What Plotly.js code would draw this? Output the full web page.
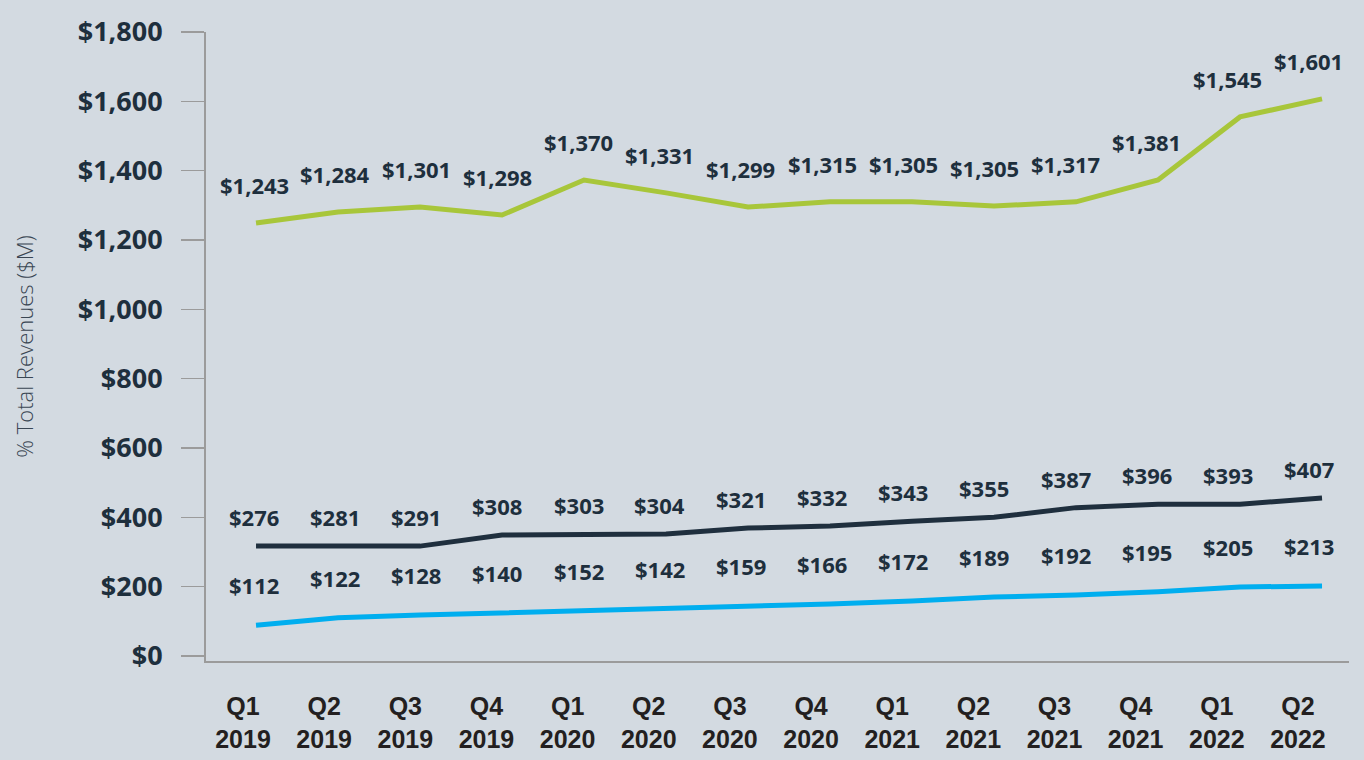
<!DOCTYPE html>
<html>
<head>
<meta charset="utf-8">
<script src="https://cdn.plot.ly/plotly-3.0.1.min.js"></script>
<style>
  html, body { margin: 0; padding: 0; background: #d3dae1; }
  #chart { width: 1364px; height: 760px; }
</style>
</head>
<body>
<div id="chart"></div>
<script>
// ---- Data ----
const quarters = ['Q1','Q2','Q3','Q4','Q1','Q2','Q3','Q4','Q1','Q2','Q3','Q4','Q1','Q2'];
const years    = ['2019','2019','2019','2019','2020','2020','2020','2020','2021','2021','2021','2021','2022','2022'];

const greenValues = [1249, 1281, 1295, 1272, 1373, 1336, 1295, 1310, 1310, 1298, 1310, 1373, 1555, 1607];
const greenLabels = ['$1,243','$1,284','$1,301','$1,298','$1,370','$1,331','$1,299','$1,315','$1,305','$1,305','$1,317','$1,381','$1,545','$1,601'];

const darkValues = [317, 317, 317, 349, 352, 352, 369, 375, 389, 400, 428, 438, 438, 456];
const darkLabels = ['$276','$281','$291','$308','$303','$304','$321','$332','$343','$355','$387','$396','$393','$407'];

const blueValues = [89, 110, 118, 124, 130, 136, 144, 150, 159, 170, 176, 185, 199, 202];
const blueLabels = ['$112','$122','$128','$140','$152','$142','$159','$166','$172','$189','$192','$195','$205','$213'];

const yTickValues = [0, 200, 400, 600, 800, 1000, 1200, 1400, 1600, 1800];
const yTickText = ['$0','$200','$400','$600','$800','$1,000','$1,200','$1,400','$1,600','$1,800'];

// ---- Derived ----
const categories = quarters.map((q, i) => q + ' ' + years[i]);
const tickText = quarters.map((q, i) => q + '<br>' + years[i]);

const GREEN = '#a8c63a';
const DARK = '#1f2f3e';
const BLUE = '#00aeef';
const TEXT = '#1e2f3d';
const AXIS = '#9b9b9b';
const BG = '#d3dae1';

function lineTrace(values, color) {
  return {
    type: 'scatter',
    mode: 'lines',
    x: categories,
    y: values,
    xaxis: 'x2',
    yaxis: 'y',
    line: { color: color, width: 5, shape: 'linear' },
    hoverinfo: 'skip',
    showlegend: false
  };
}

const traces = [
  lineTrace(greenValues, GREEN),
  lineTrace(darkValues, DARK),
  lineTrace(blueValues, BLUE)
];

const labelFont = { family: 'Open Sans, sans-serif', size: 22, color: TEXT, weight: 'bold' };
function labelAnnotations(values, labels, yshift) {
  return values.map((v, i) => ({
    xref: 'x', yref: 'y',
    x: categories[i], y: v,
    xshift: 11, yshift: yshift,
    text: labels[i],
    showarrow: false,
    font: labelFont
  }));
}

const annotations = []
  .concat(labelAnnotations(greenValues, greenLabels, 38))
  .concat(labelAnnotations(darkValues, darkLabels, 29))
  .concat(labelAnnotations(blueValues, blueLabels, 40));

const layout = {
  width: 1364,
  height: 760,
  margin: { l: 206, r: 15, t: 32, b: 99 },
  paper_bgcolor: BG,
  plot_bgcolor: BG,
  showlegend: false,
  xaxis: {
    type: 'category',
    categoryorder: 'array',
    categoryarray: categories,
    range: [-0.456, 13.629],
    tickmode: 'array',
    tickvals: categories,
    ticktext: tickText,
    showgrid: false,
    zeroline: false,
    showline: true,
    linecolor: AXIS,
    linewidth: 2,
    ticks: '',
    ticklabelstandoff: 22,
    tickfont: { family: 'Liberation Sans, Arial, sans-serif', size: 25, color: '#231f20', weight: 'bold' },
    fixedrange: true
  },
  xaxis2: {
    type: 'category',
    categoryorder: 'array',
    categoryarray: categories,
    overlaying: 'x',
    anchor: 'y',
    range: [-0.61, 13.329],
    visible: false,
    fixedrange: true
  },
  yaxis: {
    range: [-14.4, 1800],
    tickmode: 'array',
    tickvals: yTickValues,
    ticktext: yTickText,
    showgrid: false,
    zeroline: false,
    showline: true,
    linecolor: AXIS,
    linewidth: 2,
    ticks: 'outside',
    ticklen: 23,
    tickwidth: 1.5,
    tickcolor: AXIS,
    ticklabelstandoff: 13,
    tickfont: { family: 'Open Sans, sans-serif', size: 27, color: TEXT, weight: 'bold' },
    title: {
      text: '% Total Revenues ($M)',
      font: { family: 'Open Sans, sans-serif', size: 22, color: '#3a4653', weight: 300 },
      standoff: 38
    },
    fixedrange: true
  },
  annotations: annotations
};

Plotly.newPlot('chart', traces, layout, { displayModeBar: false, staticPlot: true });
</script>
</body>
</html>
